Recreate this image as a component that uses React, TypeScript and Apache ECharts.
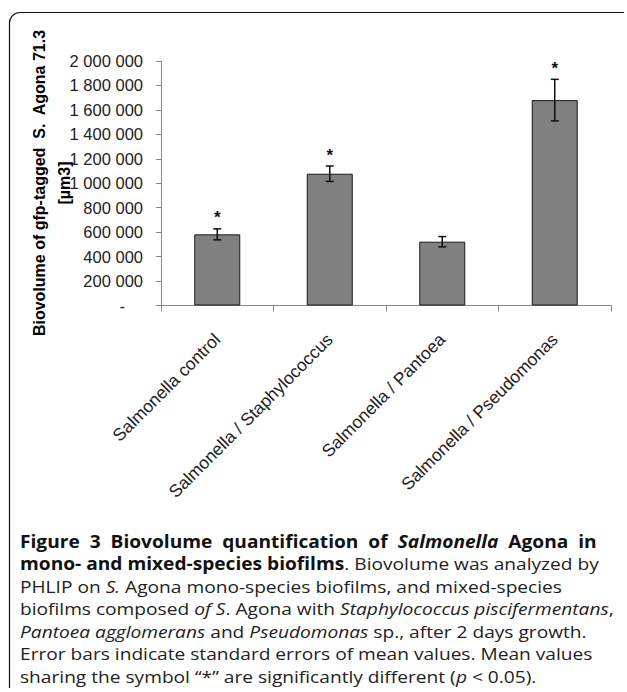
import React, { useEffect, useRef } from "react";
import * as echarts from "echarts";

const categories = [
  "Salmonella control",
  "Salmonella / Staphylococcus",
  "Salmonella / Pantoea",
  "Salmonella / Pseudomonas",
];
const means = [582000, 1078000, 522000, 1680000];
const errors = [45000, 63000, 42000, 170000];
const significant = [true, true, false, true];
const yMin = 0;
const yMax = 2000000;
const yInterval = 200000;

const yTitle1 = "Biovolume of gfp-tagged  S.  Agona 71.3";
const yTitle2 = "[µm3]";

const captionLines: string[] = [
  "{b|Figure  3  Biovolume  quantification  of  }{bi|Salmonella}{b|  Agona  in}",
  "{b|mono- and mixed-species biofilms}{r|. Biovolume was analyzed by}",
  "{r|PHLIP on }{i|S.}{r| Agona mono-species biofilms, and mixed-species}",
  "{r|biofilms composed }{i|of S}{r|. Agona with }{i|Staphylococcus piscifermentans}{r|,}",
  "{i|Pantoea agglomerans}{r| and }{i|Pseudomonas}{r| sp., after 2 days growth.}",
  "{r|Error bars indicate standard errors of mean values. Mean values}",
  "{r|sharing the symbol \u201c*\u201d are significantly different (}{i|p}{r| < 0.05).}",
];

const fmt = (v: number) => {
  if (v === 0) return "{z|-}";
  const s = String(Math.round(v));
  return s.replace(/\B(?=(\d{3})+(?!\d))/g, " ");
};

export default function App() {
  const ref = useRef<HTMLDivElement>(null);
  useEffect(() => {
    document.body.style.margin = "0";
    const chart = echarts.init(ref.current!, null, { renderer: "svg" });
    const capFont = "'Open Sans', 'Noto Sans', sans-serif";
    const capSize = 17;
    const capLH = 21;
    const capRich = {
      b: { fontFamily: capFont, fontSize: capSize, fontWeight: "bold", fill: "#111", lineHeight: capLH },
      bi: { fontFamily: capFont, fontSize: capSize, fontWeight: "bold", fontStyle: "italic", fill: "#111", lineHeight: capLH },
      r: { fontFamily: capFont, fontSize: capSize, fill: "#222", lineHeight: capLH },
      i: { fontFamily: capFont, fontSize: capSize, fontStyle: "italic", fill: "#222", lineHeight: capLH },
    };
    const capTop = 541;
    const capStep = 22.5;
    const capScaleX = 1.126;
    const axisFont = "'Liberation Sans', Arial, sans-serif";
    const graphics: any[] = [
      { type: "line", shape: { x1: 20, y1: 12.5, x2: 624, y2: 12.5 }, style: { stroke: "#111", lineWidth: 1.2 } },
      { type: "line", shape: { x1: 9.5, y1: 23, x2: 9.5, y2: 688 }, style: { stroke: "#111", lineWidth: 1.2 } },
      {
        type: "arc",
        shape: { cx: 20, cy: 23, r: 10.5, startAngle: Math.PI, endAngle: Math.PI * 1.5 },
        style: { stroke: "#111", lineWidth: 1.2, fill: "none" },
      },
      {
        type: "text",
        x: 39,
        y: 183,
        rotation: Math.PI / 2,
        style: {
          text: yTitle1,
          font: "bold 16px " + axisFont,
          fill: "#000",
          align: "center",
          verticalAlign: "middle",
        },
      },
      {
        type: "text",
        x: 64,
        y: 183,
        rotation: Math.PI / 2,
        style: {
          text: yTitle2,
          font: "bold 16px " + axisFont,
          fill: "#000",
          align: "center",
          verticalAlign: "middle",
        },
      },
    ];
    captionLines.forEach((line, i) => {
      graphics.push({
        type: "text",
        x: 20,
        y: capTop + i * capStep,
        scaleX: capScaleX,
        style: { text: line, rich: capRich, align: "left", verticalAlign: "middle" },
      });
    });

    chart.setOption({
      animation: false,
      backgroundColor: "#fff",
      grid: { left: 161, right: 16, top: 61, bottom: 692 - 305.5 },
      xAxis: {
        type: "category",
        data: categories,
        axisLine: { lineStyle: { color: "#888", width: 1 } },
        axisTick: { show: true, length: 6, lineStyle: { color: "#888" } },
        axisLabel: {
          rotate: 45,
          margin: 31,
          fontFamily: axisFont,
          fontSize: 17.5,
          color: "#222",
          interval: 0,
        },
      },
      yAxis: {
        type: "value",
        min: yMin,
        max: yMax,
        interval: yInterval,
        splitLine: { show: false },
        axisLine: { show: true, lineStyle: { color: "#888", width: 1 } },
        axisTick: { show: true, length: 5, lineStyle: { color: "#888" } },
        axisLabel: {
          margin: 18,
          fontFamily: axisFont,
          fontSize: 16.5,
          color: "#222",
          formatter: fmt,
          rich: { z: { fontFamily: axisFont, fontSize: 16.5, color: "#222", padding: [0, 18, 0, 0] } },
        },
      },
      series: [
        {
          type: "bar",
          data: means,
          barWidth: 46,
          itemStyle: { color: "#808080", borderColor: "#1a1a1a", borderWidth: 1 },
        },
        {
          type: "custom",
          data: means.map((m, i) => [i, m, errors[i], significant[i] ? 1 : 0]),
          z: 10,
          renderItem: (params: any, api: any) => {
            const i = api.value(0);
            const m = api.value(1);
            const e = api.value(2);
            const sig = api.value(3);
            const top = api.coord([i, m + e]);
            const bot = api.coord([i, m - e]);
            const cx = top[0];
            const hw = 4;
            const st = { stroke: "#111", lineWidth: 1.5 };
            const children: any[] = [
              { type: "line", shape: { x1: cx, y1: top[1], x2: cx, y2: bot[1] }, style: st },
              { type: "line", shape: { x1: cx - hw, y1: top[1], x2: cx + hw, y2: top[1] }, style: st },
              { type: "line", shape: { x1: cx - hw, y1: bot[1], x2: cx + hw, y2: bot[1] }, style: st },
            ];
            if (sig) {
              children.push({
                type: "text",
                x: cx,
                y: top[1] - 11,
                style: {
                  text: "*",
                  font: "bold 17px " + axisFont,
                  fill: "#111",
                  align: "center",
                  verticalAlign: "middle",
                },
              });
            }
            return { type: "group", children };
          },
        },
      ],
      graphic: graphics,
    });
    return () => chart.dispose();
  }, []);
  return (
    <div
      ref={ref}
      style={{ position: "absolute", left: 0, top: 0, width: 627, height: 692 }}
    />
  );
}
